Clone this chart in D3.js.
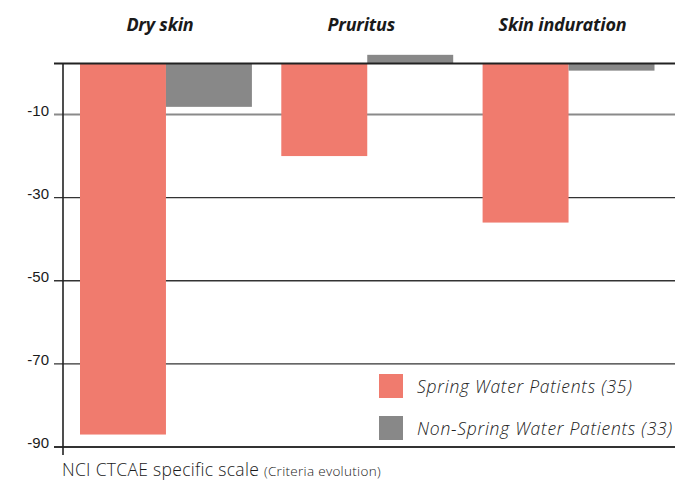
<!DOCTYPE html>
<html lang="en">
<head>
  <meta charset="UTF-8" />
  <title>Skin side effects</title>
  <script src="https://d3js.org/d3.v7.min.js"></script>
  <style>
    html, body { margin: 0; padding: 0; background: #fff; }
    svg { display: block; font-family: "Open Sans", Lato, sans-serif; }
    .title { font-size: 18px; font-weight: 700; font-style: italic; fill: #1a1a1a; letter-spacing: -0.2px; }
    .tick-label { font-size: 15px; fill: #1a1a1a; font-weight: 300; }
    .legend-text { font-size: 17.5px; font-style: italic; font-weight: 300; fill: #222; letter-spacing: 0.75px; }
  </style>
</head>
<body>
<div id="chart"></div>
<script>
// data
const categories = ["Dry skin", "Pruritus", "Skin induration"];
const series = ["Spring Water Patients (35)", "Non-Spring Water Patients (33)"];
const springValues = [-87, -20, -36];
const nonSpringValues = [-8.5, 1.7, -1.4];
const tickValues = [-10, -30, -50, -70, -90];

const W = 680, H = 481;
const colors = ["#f07b6e", "#888888"];

const svg = d3.select("#chart").append("svg")
  .attr("width", W).attr("height", H);

// scales
const x = d3.scaleBand().domain(categories).range([80, 654.5]).paddingInner(0.146).paddingOuter(0);
const xs = d3.scaleBand().domain(series).range([0, x.bandwidth()]);
// the original axis is stretched between 0 and -10
const y = d3.scaleLinear().domain([0, -10, -90]).range([63.5, 114.5, 447]);

const axisX = 63, gridLeft = 54, gridRight = 675;

// gridlines
svg.append("g").selectAll("line")
  .data(tickValues)
  .enter().append("line")
  .attr("x1", gridLeft).attr("x2", gridRight)
  .attr("y1", d => y(d)).attr("y2", d => y(d))
  .attr("stroke", d => d === -10 ? "#8a8a8a" : "#333")
  .attr("stroke-width", d => (d === -10 || d === -90) ? 2 : 1.3);

// bars
const rows = categories.map((c, i) => ({ cat: c, vals: [springValues[i], nonSpringValues[i]] }));
const groups = svg.append("g").selectAll("g")
  .data(rows)
  .enter().append("g")
  .attr("transform", d => `translate(${x(d.cat)},0)`);

groups.selectAll("rect")
  .data(d => d.vals.map((v, j) => ({ s: series[j], v: v, j: j })))
  .enter().append("rect")
  .attr("x", d => xs(d.s))
  .attr("width", xs.bandwidth())
  .attr("y", d => Math.min(y(0), y(d.v)))
  .attr("height", d => Math.abs(y(d.v) - y(0)))
  .attr("fill", d => colors[d.j]);

// zero line + vertical axis
svg.append("line")
  .attr("x1", gridLeft).attr("x2", gridRight)
  .attr("y1", y(0)).attr("y2", y(0))
  .attr("stroke", "#222").attr("stroke-width", 2);

svg.append("line")
  .attr("x1", axisX).attr("x2", axisX)
  .attr("y1", y(0)).attr("y2", 455)
  .attr("stroke", "#222").attr("stroke-width", 1.6);

// tick labels
const axis = d3.axisLeft(y).tickValues(tickValues).tickSize(0).tickPadding(0)
  .tickFormat(d => String(d));
const gAxis = svg.append("g").attr("transform", `translate(49,0)`).call(axis);
gAxis.select(".domain").remove();
gAxis.selectAll("text").attr("class", "tick-label").attr("font-family", null).attr("font-size", null)
  .attr("dy", "0.05em").attr("fill", null);

// category titles
svg.append("g").selectAll("text")
  .data(categories)
  .enter().append("text")
  .attr("class", "title")
  .attr("x", d => x(d) + x.bandwidth() / 2 - 6)
  .attr("y", 31)
  .attr("text-anchor", "middle")
  .text(d => d);

// legend
const legend = svg.append("g").attr("transform", "translate(379,374)");
const li = legend.selectAll("g")
  .data(series)
  .enter().append("g")
  .attr("transform", (d, i) => `translate(0,${i * 42})`);
li.append("rect").attr("width", 24).attr("height", 24).attr("fill", (d, i) => colors[i]);
li.append("text").attr("class", "legend-text").attr("x", 38).attr("y", 19).text(d => d);

// x label
const xl = svg.append("text").attr("x", 62).attr("y", 476).attr("fill", "#1a1a1a")
  .attr("font-weight", 300).attr("letter-spacing", 0.3);
xl.append("tspan").attr("font-size", 17.5).text("NCI CTCAE specific scale ");
xl.append("tspan").attr("font-size", 13.5).text("(Criteria evolution)");
</script>
</body>
</html>
